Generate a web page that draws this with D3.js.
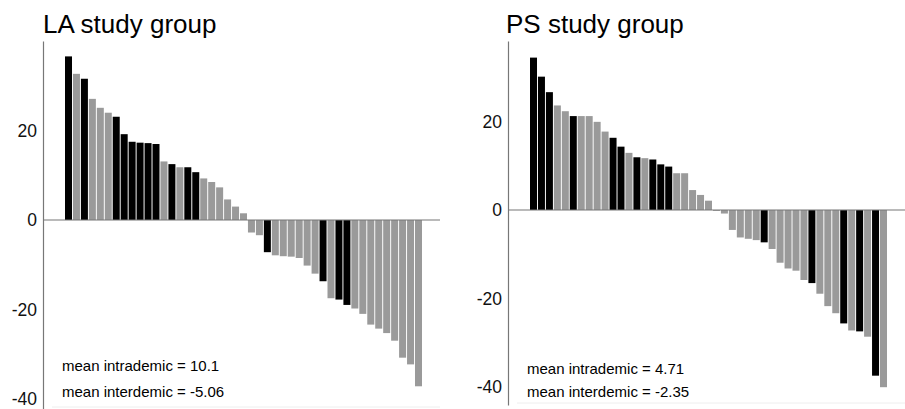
<!DOCTYPE html>
<html>
<head>
<meta charset="utf-8">
<script src="https://cdn.jsdelivr.net/npm/d3@7"></script>
<style>
  body { margin: 0; background: #fff; }
  svg { display: block; font-family: "Liberation Sans", Arial, sans-serif; }
</style>
</head>
<body>
<div id="root"></div>
<script>
// values, sorted as in the figure
const laValues = [36.6, 32.7, 31.6, 27.1, 25.1, 24.0, 23.1, 19.2, 17.5, 17.3, 17.2, 17.0,
  13.1, 12.5, 11.8, 11.8, 10.7, 9.3, 8.5, 7.3, 4.6, 3.0, 1.5,
  -2.8, -3.4, -7.2, -7.9, -8.1, -8.2, -8.5, -10.2, -12.0, -13.7, -17.5, -17.8, -19.0,
  -19.8, -21.0, -23.4, -24.3, -25.3, -27.0, -30.8, -32.3, -37.2];
// 1 = intrademic (black), 0 = interdemic (grey)
const laGroups = [1, 0, 1, 0, 0, 0, 1, 1, 1, 1, 1, 1,
  0, 1, 0, 1, 1, 0, 0, 0, 0, 0, 0,
  0, 0, 1, 0, 0, 0, 0, 0, 0, 1, 0, 1, 1,
  0, 0, 0, 0, 0, 0, 0, 0, 0];

const psValues = [34.4, 30.1, 26.6, 23.6, 22.3, 21.2, 21.2, 21.2, 19.9, 17.7, 16.3, 14.3,
  12.9, 11.9, 11.7, 11.4, 10.3, 9.8, 8.3, 8.3, 4.5, 3.4, 2.1,
  -0.2, -0.8, -4.5, -6.2, -6.5, -6.8, -7.3, -8.8, -11.9, -13.2, -13.7, -15.8, -16.5,
  -18.9, -21.7, -23.3, -25.6, -27.2, -27.4, -28.6, -37.4, -40.0];
const psGroups = [1, 1, 1, 0, 0, 1, 0, 0, 0, 0, 1, 1,
  0, 1, 0, 1, 1, 1, 0, 0, 0, 0, 0,
  0, 0, 0, 0, 0, 0, 1, 0, 0, 0, 0, 0, 1,
  0, 0, 0, 1, 0, 1, 0, 1, 0];

const yTicks = [20, 0, -20, -40];
const titles = ["LA study group", "PS study group"];
const meanLines = [
  ["mean intrademic = 10.1", "mean interdemic = -5.06"],
  ["mean intrademic = 4.71", "mean interdemic = -2.35"],
];

const width = 905;
const height = 409;
const colors = { 1: "#000000", 0: "#9a9a9a" };

const svg = d3.select("#root")
  .append("svg")
  .attr("width", width)
  .attr("height", height)
  .attr("viewBox", `0 0 ${width} ${height}`);

const panels = [
  { x0: 43, zero: 220, unit: 4.47, bottom: 409, values: laValues, groups: laGroups,
    title: titles[0], means: meanLines[0], titleX: 43, textY: 371, gap: 26 },
  { x0: 508, zero: 210, unit: 4.43, bottom: 405, values: psValues, groups: psGroups,
    title: titles[1], means: meanLines[1], titleX: 506, textY: 374, gap: 23 },
];

panels.forEach(drawPanel);

function drawPanel(p) {
  const top = 41;
  const g = svg.append("g");

  const yScale = d3.scaleLinear()
    .domain([-(p.bottom - p.zero) / p.unit, (p.zero - top) / p.unit])
    .range([p.bottom, top]);

  const xScale = d3.scaleBand()
    .domain(d3.range(p.values.length))
    .range([p.x0 + 22, p.x0 + 379])
    .paddingInner(0.12);

  // faint bottom rule
  g.append("line")
    .attr("x1", p.x0 + 9).attr("x2", p.x0 + 397)
    .attr("y1", p.bottom - 2).attr("y2", p.bottom - 2)
    .attr("stroke", "#eeeeee");

  g.selectAll(".bar")
    .data(p.values)
    .join("rect")
    .attr("class", "bar")
    .attr("x", (d, i) => xScale(i))
    .attr("width", xScale.bandwidth())
    .attr("y", (d) => yScale(Math.max(0, d)))
    .attr("height", (d) => Math.abs(yScale(d) - yScale(0)))
    .attr("fill", (d, i) => colors[p.groups[i]]);

  // zero line
  g.append("line")
    .attr("x1", p.x0).attr("x2", p.x0 + 397)
    .attr("y1", yScale(0)).attr("y2", yScale(0))
    .attr("stroke", "#777")
    .attr("stroke-width", 1.2);

  const leftAxis = d3.axisLeft(yScale)
    .tickValues(yTicks)
    .tickFormat((d) => String(d))
    .tickSize(0)
    .tickPadding(6);
  const axisG = g.append("g")
    .attr("transform", `translate(${p.x0}, 0)`)
    .call(leftAxis);
  axisG.select(".domain")
    .attr("stroke", "#777")
    .attr("stroke-width", 1.2);
  axisG.selectAll("text")
    .attr("fill", "#111")
    .style("font-size", "17.5px");

  g.append("text")
    .text(p.title)
    .attr("x", p.titleX)
    .attr("y", 33)
    .attr("fill", "#000")
    .style("font-size", "26px");

  g.selectAll(".mean")
    .data(p.means)
    .join("text")
    .attr("class", "mean")
    .text((d) => d)
    .attr("x", p.x0 + 19)
    .attr("y", (d, i) => p.textY + i * p.gap)
    .attr("fill", "#000")
    .style("font-size", "15px");
}
</script>
</body>
</html>
